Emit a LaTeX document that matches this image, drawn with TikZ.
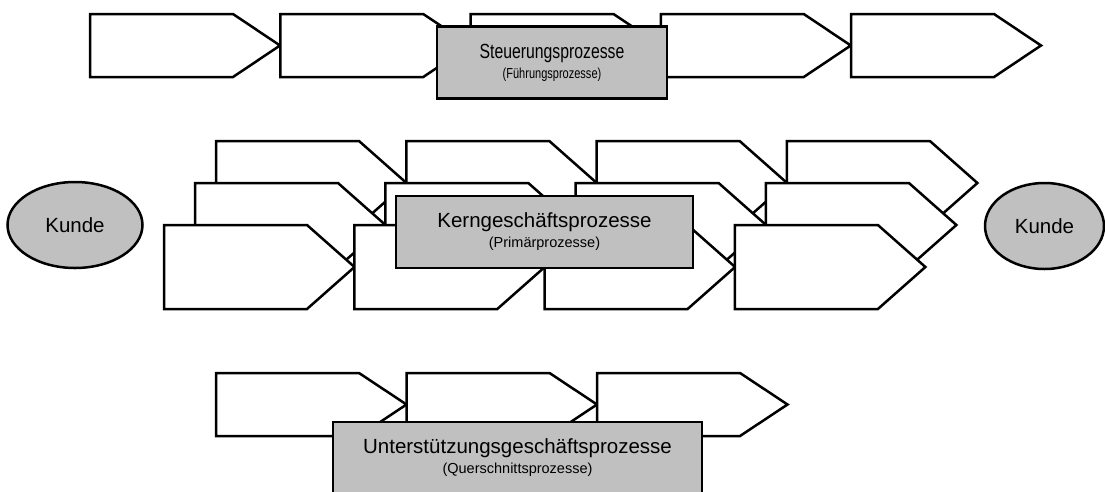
\documentclass[tikz,border=0pt]{standalone}
\usepackage{fontspec}
\setmainfont{Liberation Sans}
\usetikzlibrary{shapes.geometric}
\definecolor{boxgray}{HTML}{C0C0C0}
\begin{document}
\begin{tikzpicture}[x=1pt,y=-1pt,
  outline/.style={draw=black, line width=2.5pt},
  chevline/.style={outline, fill=white},
  % process step: body length, tip length, height (origin = top left corner)
  pics/chev/.style n args={3}{code={
    \draw[chevline] (0,0) -- (#1,0) -- ({#1+#2},{#3/2}) -- (#1,#3) -- (0,#3) -- cycle;}},
  procbox/.style={outline, fill=boxgray, rectangle, inner sep=0pt, minimum height=72pt},
  kunde/.style={outline, fill=boxgray, ellipse, inner sep=0pt, minimum height=86pt,
    font=\fontsize{20.5}{24}\selectfont},
  titletext/.style={anchor=base, inner sep=0pt, font=\fontsize{20.5}{24}\selectfont},
  subtext/.style={anchor=base, inner sep=0pt, font=\fontsize{14.5}{17}\selectfont},
]
\path[use as bounding box, fill=white] (0,0) rectangle (1105,491);

% Steuerungsprozesse (label set narrower)
\foreach \i in {0,...,4}
  \pic at ({90+190.25*\i},14) {chev={143}{47}{63}};
\node[procbox, minimum width=230pt] (steuer) at (552,62.5) {};
\node[titletext] (steuerT) at ([yshift=-33pt]steuer.north) {\scalebox{0.77}[1]{Steuerungsprozesse}};
\node[subtext] (steuerS) at ([yshift=-53pt]steuer.north) {\scalebox{0.76}[1]{(Führungsprozesse)}};

% Kerngeschäftsprozesse: three staggered rows
\foreach \i in {0,...,3}
  \pic at ({216+190.3*\i},141) {chev={143}{47.5}{84}};
\foreach \i in {0,...,3}
  \pic at ({195+190.3*\i},183) {chev={143}{47.5}{84}};
\foreach \i in {0,...,3}
  \pic at ({164+190.3*\i},225) {chev={143}{47.5}{84}};
\node[procbox, minimum width=297pt] (kern) at (544.5,232) {};
\node[titletext] (kernT) at ([yshift=-33pt]kern.north) {Kerngeschäftsprozesse};
\node[subtext] (kernS) at ([yshift=-53pt]kern.north) {(Primärprozesse)};

% customers
\node[kunde, minimum width=135pt] (kundeL) at (75,225) {Kunde};
\node[kunde, minimum width=119pt] (kundeR) at (1044.5,226) {Kunde};

% Unterstützungsgeschäftsprozesse
\foreach \i in {0,...,2}
  \pic at ({216+190.5*\i},373) {chev={143}{47.5}{63}};
\node[procbox, minimum width=369pt] (unter) at (517.5,458) {};
\node[titletext] (unterT) at ([yshift=-33pt]unter.north) {Unterstützungsgeschäftsprozesse};
\node[subtext] (unterS) at ([yshift=-53pt]unter.north) {(Querschnittsprozesse)};
\end{tikzpicture}
\end{document}
